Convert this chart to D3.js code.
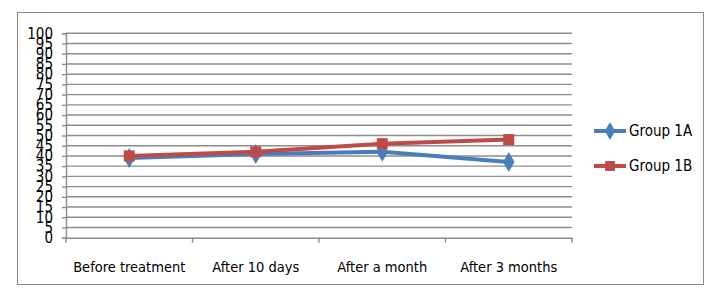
<!DOCTYPE html>
<html><head><meta charset="utf-8">
<script src="https://cdn.jsdelivr.net/npm/d3@7"></script>
<style>
body{margin:0;background:#fff;}
text{font-family:"Liberation Sans Narrow","DejaVu Sans Condensed","Open Sans",sans-serif;fill:#000;}
</style></head><body>
<svg id="c" width="723" height="297"></svg>
<script>
const categories = ["Before treatment","After 10 days","After a month","After 3 months"];
const group1A = [39, 41, 42, 37];
const group1B = [40, 42, 46, 48];
const seriesNames = ["Group 1A","Group 1B"];
const yTicks = d3.range(0, 101, 5);

const svg = d3.select("#c");
const pLeft = 66, pRight = 572, pTop = 33.3, pBottom = 237.7;

svg.append("rect").attr("x",17.5).attr("y",12.5).attr("width",686).attr("height",272)
  .attr("fill","none").attr("stroke","#8a8a8a").attr("stroke-width",1);

const x = d3.scaleBand().domain(categories).range([pLeft,pRight]).padding(0);
const y = d3.scaleLinear().domain([0,100]).range([pBottom,pTop]);

// gridlines
svg.append("g").selectAll("line").data(yTicks.filter(d=>d>0)).join("line")
  .attr("x1",pLeft).attr("x2",pRight).attr("y1",d=>y(d)).attr("y2",d=>y(d))
  .attr("stroke","#8c8c8c").attr("stroke-width",1.4);

// y axis
const ya = svg.append("g").attr("transform",`translate(${pLeft},0)`)
  .call(d3.axisLeft(y).tickValues(yTicks).tickSize(4).tickPadding(9));
ya.select(".domain").attr("stroke","#8c8c8c").attr("stroke-width",1.4);
ya.selectAll(".tick line").attr("stroke","#8c8c8c").attr("stroke-width",1.4);
ya.selectAll("text").attr("font-size",15).attr("font-family",null).attr("fill","#000");

// x axis
const xa = svg.append("g").attr("transform",`translate(0,${pBottom})`)
  .call(d3.axisBottom(x).tickSize(0).tickPadding(24));
xa.select(".domain").attr("stroke","#8c8c8c").attr("stroke-width",1.4);
xa.selectAll("text").attr("font-size",14.5).attr("font-family",null).attr("fill","#000");
svg.append("g").selectAll("line").data(d3.range(categories.length+1)).join("line")
  .attr("x1",i=>pLeft+i*x.step()).attr("x2",i=>pLeft+i*x.step())
  .attr("y1",pBottom).attr("y2",pBottom+5).attr("stroke","#8c8c8c").attr("stroke-width",1.4);

const cx = c => x(c) + x.bandwidth()/2;
const series = [
  {name:seriesNames[0], values:group1A, color:"#4a7ebb", shape:d3.symbolDiamond, size:115},
  {name:seriesNames[1], values:group1B, color:"#be4b48", shape:d3.symbolSquare, size:121}
];
const line = d3.line().x((d,i)=>cx(categories[i])).y(d=>y(d));

series.forEach(s=>{
  const g = svg.append("g");
  g.append("path").datum(s.values).attr("d",line).attr("fill","none")
    .attr("stroke",s.color).attr("stroke-width",4).attr("stroke-linejoin","round");
  g.selectAll("path.m").data(s.values).join("path").attr("class","m")
    .attr("transform",(d,i)=>`translate(${cx(categories[i])},${y(d)})`)
    .attr("d",d3.symbol().type(s.shape).size(s.size)).attr("fill",s.color);
});

// legend
const lg = svg.append("g");
series.forEach((s,i)=>{
  const ly = 131 + i*35;
  lg.append("line").attr("x1",594).attr("x2",626).attr("y1",ly).attr("y2",ly)
    .attr("stroke",s.color).attr("stroke-width",4);
  lg.append("path").attr("transform",`translate(610,${ly})`)
    .attr("d",d3.symbol().type(s.shape).size(s.size*0.8)).attr("fill",s.color);
  lg.append("text").attr("x",629).attr("y",ly+5).attr("font-size",15).text(s.name);
});
</script></body></html>
